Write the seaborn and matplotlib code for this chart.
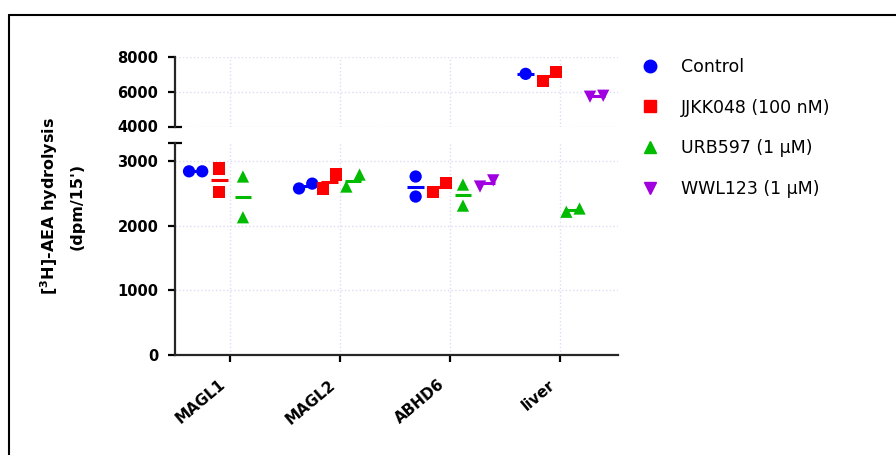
import numpy as np
import pandas as pd
import seaborn as sns
import matplotlib.pyplot as plt
from matplotlib.lines import Line2D
from matplotlib.transforms import ScaledTranslation

# values (dpm/15')
categories = ['MAGL1', 'MAGL2', 'ABHD6', 'liver']
treatments = ['Control', 'JJKK048 (100 nM)', 'URB597 (1 µM)', 'WWL123 (1 µM)']
control = [[2840, 2840], [2575, 2650], [2760, 2450], [7030]]
jjkk048 = [[2885, 2525], [2575, 2790], [2525, 2665], [6630, 7145]]
urb597 = [[2760, 2130], [2605, 2790], [2635, 2310], [2215, 2265]]
wwl123 = [[], [], [2605, 2700], [5715, 5770]]

colors = ['#0000ff', '#ff0000', '#00bb00', '#a000e0']
markers = ['o', 's', '^', 'v']

W, H = 896, 455
LO_TOP = 3278   # top of lower panel
PX_LO = 194 / 3000   # px per unit, lower panel
PX_HI = 69 / 4000    # px per unit, upper panel

def dodge_of(t):
    return (treatments.index(t) - 1.5) * 0.215 + 0.01

rows = []
for t, series in zip(treatments, [control, jjkk048, urb597, wwl123]):
    for ci, vals in enumerate(series):
        if not vals:
            continue
        px = PX_HI if min(vals) > 4000 else PX_LO
        spread = len(vals) == 2 and abs(vals[0] - vals[1]) * px < 17
        for k, v in enumerate(vals):
            off = (k - 0.5) * 0.12 if spread else 0
            rows.append(dict(treatment=t, cat=ci, x=ci + dodge_of(t) + off, value=v))
df = pd.DataFrame(rows)
means = df.groupby(['treatment', 'cat'], sort=False)['value'].mean().reset_index()

sns.set_style('white')
plt.rcParams['font.family'] = ['DejaVu Sans']
plt.rcParams.update({'text.color': 'black', 'axes.labelcolor': 'black',
                     'xtick.color': 'black', 'ytick.color': 'black'})

fig = plt.figure(figsize=(W / 100, H / 100), dpi=100)

def rect(l, t, r, b):
    return [l / W, 1 - b / H, (r - l) / W, (b - t) / H]

ax_lo = fig.add_axes(rect(175, 143, 618, 355))
ax_hi = fig.add_axes(rect(175, 57, 618, 126.5))

pal = dict(zip(treatments, colors))
mk = dict(zip(treatments, markers))

for ax, lo, hi in [(ax_lo, 0, LO_TOP), (ax_hi, 4000, 8000)]:
    sub = df[(df['value'] >= lo) & (df['value'] <= hi)]
    sns.scatterplot(data=sub, x='x', y='value', hue='treatment', style='treatment',
                    palette=pal, markers=mk, s=78, linewidth=0, legend=False,
                    ax=ax, clip_on=False, zorder=3)
    m = means[(means['value'] >= lo) & (means['value'] <= hi)]
    for _, r in m.iterrows():
        d = dodge_of(r['treatment'])
        ax.hlines(r['value'], r['cat'] + d - 0.075, r['cat'] + d + 0.075,
                  color=pal[r['treatment']], lw=2.2, zorder=4)
    ax.set_xlim(-0.5, 3.527)
    ax.set_ylim(lo, hi)
    ax.set_xticks(range(len(categories)))
    ax.grid(True, color='#dcdcf5', linestyle=':', lw=1)
    ax.set_axisbelow(True)
    ax.set_xlabel('')
    ax.set_ylabel('')
    for s in ['top', 'right']:
        ax.spines[s].set_visible(False)
    ax.spines['left'].set_linewidth(1.6)
    ax.spines['bottom'].set_linewidth(1.6)
    ax.tick_params(axis='both', length=5, width=1.6, color='black', pad=7,
                   labelsize=10.5, left=True, bottom=True)

ax_lo.set_yticks([0, 1000, 2000, 3000])
ax_hi.set_yticks([4000, 6000, 8000])
ax_hi.spines['bottom'].set_visible(False)
ax_hi.tick_params(axis='x', bottom=False, labelbottom=False)
for lab in ax_lo.get_yticklabels() + ax_hi.get_yticklabels():
    lab.set_fontweight('bold')

ax_lo.set_xticklabels(categories, rotation=40, ha='right', va='center',
                      rotation_mode='anchor', fontweight='bold', fontsize=11)
ax_lo.tick_params(axis='x', pad=15)
for lab in ax_lo.get_xticklabels():
    lab.set_transform(lab.get_transform() + ScaledTranslation(-0.07, 0, fig.dpi_scale_trans))

# caps at the axis break
ax_lo.plot([-0.016, 0.016], [1, 1], transform=ax_lo.transAxes, color='black',
           lw=1.6, clip_on=False, solid_capstyle='butt')
ax_hi.plot([0, 0.016], [0, 0], transform=ax_hi.transAxes, color='black',
           lw=1.6, clip_on=False, solid_capstyle='butt')

fig.text(49 / W, 1 - 206 / H, "[$\\mathbf{^3}$H]-AEA hydrolysis",
         rotation=90, ha='center', va='center', fontsize=11.5, fontweight='bold')
fig.text(77 / W, 1 - 206 / H, "(dpm/15')",
         rotation=90, ha='center', va='center', fontsize=11.5, fontweight='bold')

handles = [Line2D([], [], linestyle='none', marker=m, color=c, markersize=9)
           for m, c in zip(markers, colors)]
fig.legend(handles, treatments, loc='upper left', bbox_to_anchor=(641 / W, 1 - 58 / H),
           frameon=False, fontsize=12.5, labelspacing=1.3, handlelength=1,
           handletextpad=1.3, borderpad=0, borderaxespad=0)

# outer frame
fig.add_artist(Line2D([9 / W, 1], [1 - 15 / H, 1 - 15 / H], color='black', lw=1.5))
fig.add_artist(Line2D([9 / W, 9 / W], [0, 1 - 15 / H], color='black', lw=1.5))

fig.savefig('out.png', dpi=100)
